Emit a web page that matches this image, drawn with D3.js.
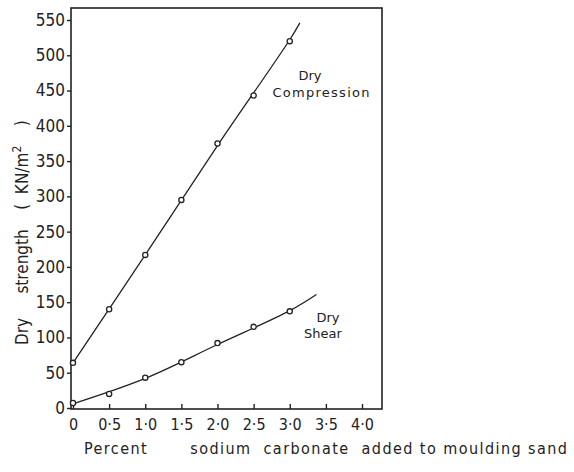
<!DOCTYPE html>
<html>
<head>
<meta charset="utf-8">
<script src="https://d3js.org/d3.v7.min.js"></script>
<style>
  body { margin:0; background:#fff; }
  svg { display:block; }
  text { font-family:"DejaVu Sans Condensed","DejaVu Sans",sans-serif; fill:#222; }
  .ann text { font-family:"DejaVu Sans",sans-serif; }
</style>
</head>
<body>
<div id="chart"></div>
<script>
// percent sodium carbonate
const percent = [0, 0.5, 1.0, 1.5, 2.0, 2.5, 3.0];
const compression = [64, 140, 217, 295, 375, 443, 520];
const shear = [7, 20, 43, 65, 92, 115, 137];

// hand-drawn smooth lines, extended a little past the last point
const compressionLineX = [0, 1.0, 2.0, 3.0, 3.14];
const compressionLineY = [64, 217, 372, 522, 546];
const shearLineX = [0, 1.0, 2.0, 3.0, 3.37];
const shearLineY = [6, 42, 90, 138, 161];

const xTicks = [0, 0.5, 1.0, 1.5, 2.0, 2.5, 3.0, 3.5, 4.0];
const xTickLabels = ["0", "0·5", "1·0", "1·5", "2·0", "2·5", "3·0", "3·5", "4·0"];
const yTicks = [0, 50, 100, 150, 200, 250, 300, 350, 400, 450, 500, 550];

const W = 574, H = 472;
const svg = d3.select("#chart").append("svg").attr("width", W).attr("height", H);

const x = d3.scaleLinear().domain([0, 4.0]).range([73, 362]);
const y = d3.scaleLinear().domain([0, 550]).range([408, 20]);
const frame = { left: 71, right: 382, top: 8, bottom: 409 };

// frame
svg.append("rect")
  .attr("x", frame.left).attr("y", frame.top)
  .attr("width", frame.right - frame.left).attr("height", frame.bottom - frame.top)
  .attr("fill", "none").attr("stroke", "#222").attr("stroke-width", 1.6);

// y axis
const yAxis = svg.append("g").attr("transform", `translate(${frame.left},0)`)
  .call(d3.axisLeft(y).tickValues(yTicks).tickSize(4).tickPadding(2));
yAxis.select(".domain").remove();
yAxis.selectAll("line").attr("stroke", "#222").attr("stroke-width", 1.4);
yAxis.selectAll("text").style("font-size", "17px").attr("fill", "#222");

// x axis, ticks pointing inward
const xAxis = svg.append("g").attr("transform", `translate(0,${frame.bottom})`)
  .call(d3.axisBottom(x).tickValues(xTicks).tickFormat((d, i) => xTickLabels[i]).tickSize(-5).tickPadding(10));
xAxis.select(".domain").remove();
xAxis.selectAll("line").attr("stroke", "#222").attr("stroke-width", 1.4);
xAxis.selectAll("text").style("font-size", "16px").attr("fill", "#222");

// curves
const line = d3.line().x(d => x(d[0])).y(d => y(d[1])).curve(d3.curveCatmullRom);
svg.append("path").datum(d3.zip(compressionLineX, compressionLineY))
  .attr("d", line).attr("fill", "none").attr("stroke", "#222").attr("stroke-width", 1.3);
svg.append("path").datum(d3.zip(shearLineX, shearLineY))
  .attr("d", line).attr("fill", "none").attr("stroke", "#222").attr("stroke-width", 1.3);

// points
[compression, shear].forEach(series => {
  svg.append("g").selectAll("circle").data(percent).join("circle")
    .attr("cx", d => x(d))
    .attr("cy", (d, i) => y(series[i]))
    .attr("r", 2.6)
    .attr("fill", "#fff").attr("stroke", "#222").attr("stroke-width", 1.3);
});

// annotations
const ann = svg.append("g").attr("class", "ann").style("font-size", "13px").attr("text-anchor", "middle");
ann.append("text").attr("x", 310).attr("y", 80).text("Dry");
ann.append("text").attr("x", 321).attr("y", 97).attr("textLength", 97).text("Compression");
ann.append("text").attr("x", 328).attr("y", 322).text("Dry");
ann.append("text").attr("x", 323).attr("y", 338).text("Shear");

// y label
const yl = svg.append("text")
  .attr("transform", "translate(28,345) rotate(-90)")
  .style("white-space", "pre")
  .style("font-size", "17px");
yl.append("tspan").text("Dry     strength    (  KN/m");
yl.append("tspan").attr("dy", -7).style("font-size", "12px").text("2");
yl.append("tspan").attr("dy", 7).text("    )");

// x label
svg.append("text").attr("x", 84).attr("y", 454)
  .style("font-size", "16px")
  .style("white-space", "pre")
  .attr("textLength", 483).attr("lengthAdjust", "spacing")
  .text("Percent       sodium  carbonate  added to moulding sand");
</script>
</body>
</html>
